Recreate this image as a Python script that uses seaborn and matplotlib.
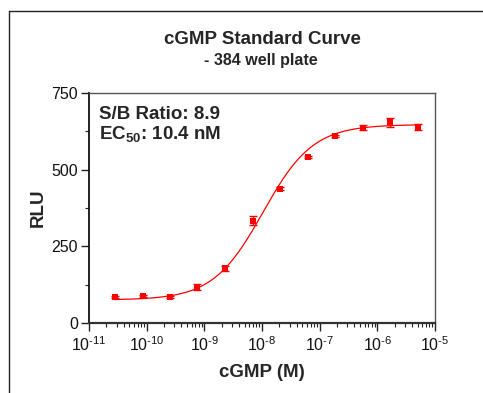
import numpy as np
import pandas as pd
import matplotlib
matplotlib.use("Agg")
import matplotlib.pyplot as plt
from matplotlib.lines import Line2D
from matplotlib.ticker import LogLocator, FixedLocator, NullFormatter, FuncFormatter
import seaborn as sns

# ---- data ----
conc_M = [2.8e-11, 8.5e-11, 2.54e-10, 7.6e-10, 2.29e-9, 6.86e-9,
          2.06e-8, 6.17e-8, 1.85e-7, 5.56e-7, 1.67e-6, 5.0e-6]
rlu = [84, 88, 86, 118, 178, 334, 438, 542, 610, 637, 655, 640]
rlu_err = [3, 3, 3, 9, 9, 14, 4, 4, 4, 9, 15, 10]
# 4-parameter logistic fit parameters
fit_bottom = 75
fit_top = 647
fit_ec50 = 10.4e-9
fit_hill = 1.0

yticks = [0, 250, 500, 750]
title = "cGMP Standard Curve"
subtitle = "- 384 well plate"

sns.set_theme(style="ticks")
plt.rcParams["font.family"] = ["Liberation Sans", "DejaVu Sans"]
plt.rcParams["mathtext.fontset"] = "custom"
plt.rcParams["mathtext.rm"] = "Liberation Sans"
plt.rcParams["mathtext.bf"] = "Liberation Sans:bold"
plt.rcParams["mathtext.it"] = "Liberation Sans:italic"

fig = plt.figure(figsize=(4.83, 3.93), dpi=100)
ax = fig.add_axes([89/483, 1 - 323/393, (435-89)/483, (323-93)/393])

df = pd.DataFrame({"conc": conc_M, "rlu": rlu, "err": rlu_err})

xs = np.logspace(np.log10(conc_M[0]), np.log10(conc_M[-1]), 300)
ys = fit_bottom + (fit_top - fit_bottom) / (1 + (fit_ec50 / xs) ** fit_hill)
curve = pd.DataFrame({"conc": xs, "rlu": ys})
sns.lineplot(data=curve, x="conc", y="rlu", ax=ax, color="#ff0000", lw=0.9)

ax.errorbar(df["conc"], df["rlu"], yerr=df["err"], fmt="none",
            ecolor="#ff0000", elinewidth=1.0, capsize=3, capthick=1.0, zorder=3)
sns.scatterplot(data=df, x="conc", y="rlu", ax=ax, color="#ff0000",
                marker="s", s=16, edgecolor="#ff0000", linewidth=0, zorder=4)

ax.set_xscale("log")
ax.set_xlim(1e-11, 1e-5)
ax.set_ylim(0, 750)
ax.set_yticks(yticks)
ax.yaxis.set_minor_locator(FixedLocator([125, 375, 625]))
ax.xaxis.set_major_locator(LogLocator(base=10, numticks=10))
ax.xaxis.set_major_formatter(FuncFormatter(
    lambda v, p: r"$\mathregular{10^{\text{-%d}}}$" % round(-np.log10(v))))
ax.xaxis.set_minor_locator(LogLocator(base=10, subs=np.arange(2, 10), numticks=20))
ax.xaxis.set_minor_formatter(NullFormatter())

ax.tick_params(axis="both", which="major", direction="out", length=6, width=1,
               color="#222222", labelcolor="#111111", pad=2)
ax.tick_params(axis="y", which="major", labelsize=11.5)
ax.tick_params(axis="x", which="major", labelsize=11.5, pad=3)
ax.tick_params(axis="both", which="minor", direction="out", length=3, width=0.8,
               color="#222222")

for s in ["left", "bottom"]:
    ax.spines[s].set_color("#111111")
    ax.spines[s].set_linewidth(1.3)
ax.spines["bottom"].set_color("#333333")
ax.spines["bottom"].set_linewidth(1.6)
for s in ["top", "right"]:
    ax.spines[s].set_visible(True)
    ax.spines[s].set_color("#555555")
    ax.spines[s].set_linewidth(1.0)

ax.set_xlabel("cGMP (M)", fontsize=13.5, fontweight="bold", labelpad=7)
ax.set_ylabel("RLU", fontsize=13.5, fontweight="bold", labelpad=3)

ax.text(0.028, 0.945, "S/B Ratio: 8.9", transform=ax.transAxes, fontsize=13.5,
        fontweight="bold", va="top", ha="left")
ax.text(0.028, 0.82, r"EC$_{\mathbf{50}}$: 10.4 nM", transform=ax.transAxes,
        fontsize=13.5, fontweight="bold", va="center", ha="left")

fig.text(262/483, 1 - 39/393, title, fontsize=13.5, fontweight="bold",
         ha="center", va="center")
fig.text(261/483, 1 - 60/393, subtitle, fontsize=11.5, fontweight="bold",
         ha="center", va="center")

# outer frame
fig.add_artist(Line2D([9/483, 9/483], [0, 1 - 11/393], transform=fig.transFigure,
                      color="#222222", lw=1.0))
fig.add_artist(Line2D([9/483, 1], [1 - 11/393, 1 - 11/393], transform=fig.transFigure,
                      color="#222222", lw=1.0))

fig.savefig("out.png", dpi=100, facecolor="white")
